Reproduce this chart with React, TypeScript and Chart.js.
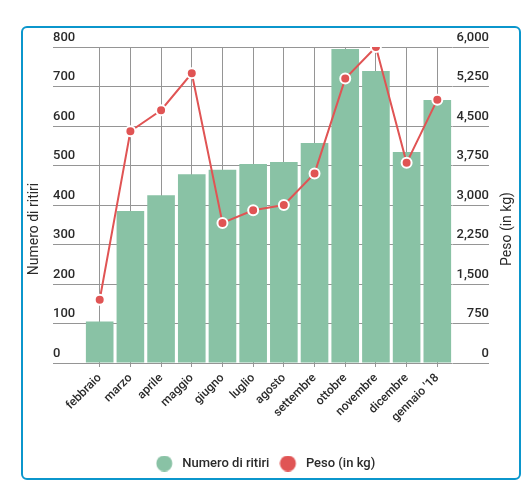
import React, { useEffect, useRef } from 'react';
import { Chart, registerables } from 'chart.js';

Chart.register(...registerables);

const categories = ['febbraio', 'marzo', 'aprile', 'maggio', 'giugno', 'luglio', 'agosto', 'settembre', 'ottobre', 'novembre', 'dicembre', "gennaio '18"];
const ritiri = [105, 385, 425, 478, 489, 504, 509, 557, 795, 739, 534, 666];
const peso = [1200, 4400, 4800, 5500, 2660, 2900, 3000, 3600, 5400, 6000, 3800, 5000];
const leftTicks = [0, 100, 200, 300, 400, 500, 600, 700, 800];
const rightTicks = [0, 750, 1500, 2250, 3000, 3750, 4500, 5250, 6000];
const seriesNames = ['Numero di ritiri', 'Peso (in kg)'];
const leftTitle = 'Numero di ritiri';
const rightTitle = 'Peso (in kg)';

const GREEN = '#89c2a5';
const RED = '#e05454';
const GRID = '#959595';
const TEXT = '#2a2a2a';
const WEIGHT = '500';

function makeDot(color: string) {
  const c = document.createElement('canvas');
  c.width = 20;
  c.height = 16;
  const ctx = c.getContext('2d')!;
  ctx.fillStyle = color;
  ctx.beginPath();
  ctx.arc(8.5, 8, 8, 0, Math.PI * 2);
  ctx.fill();
  return c;
}

const titlesPlugin = {
  id: 'sideTitles',
  afterLayout(chart: any) {
    const lg = chart.legend;
    if (lg) {
      lg.left -= 5.5;
      lg.right -= 5.5;
    }
  },
  afterDraw(chart: any) {
    const { ctx, chartArea, scales } = chart;
    const cy = (chartArea.top + chartArea.bottom) / 2 + 24;
    ctx.save();
    ctx.font = '14px Roboto';
    ctx.fillStyle = TEXT;
    ctx.textAlign = 'center';
    ctx.textBaseline = 'middle';
    ctx.save();
    ctx.translate(scales.y.left - 18.3, cy);
    ctx.rotate(-Math.PI / 2);
    ctx.fillText(leftTitle, 0, 0);
    ctx.restore();
    ctx.save();
    ctx.translate(scales.y1.right + 18.5, cy);
    ctx.rotate(-Math.PI / 2);
    ctx.fillText(rightTitle, 0, 0);
    ctx.restore();
    ctx.restore();
  },
};

export default function App() {
  const ref = useRef<HTMLCanvasElement>(null);
  useEffect(() => {
    if (!ref.current) return;
    Chart.defaults.font.family = 'Roboto';
    const dots = [makeDot(GREEN), makeDot(RED)];
    const chart = new Chart(ref.current, {
      type: 'bar',
      data: {
        labels: categories,
        datasets: [
          {
            type: 'bar',
            label: seriesNames[0],
            data: ritiri,
            backgroundColor: GREEN,
            barPercentage: 0.9,
            categoryPercentage: 1,
            yAxisID: 'y',
            order: 1,
          } as any,
          {
            type: 'line',
            label: seriesNames[1],
            data: peso,
            borderColor: RED,
            backgroundColor: RED,
            borderWidth: 2,
            pointRadius: 5,
            pointBorderWidth: 2,
            pointBorderColor: '#ffffff',
            pointBackgroundColor: RED,
            tension: 0,
            yAxisID: 'y1',
            order: 0,
          } as any,
        ],
      },
      options: {
        animation: false,
        responsive: false,
        layout: { padding: { left: 30, right: 30, top: 19, bottom: 0 } },
        scales: {
          x: {
            offset: true,
            grid: { offset: false, color: GRID, tickLength: 4 },
            border: { display: false },
            ticks: {
              minRotation: 45,
              maxRotation: 45,
              autoSkip: false,
              padding: 4,
              color: TEXT,
              font: { size: 12, weight: WEIGHT },
            },
            afterFit: (s: any) => {
              s.height = 84;
            },
          },
          y: {
            position: 'left',
            min: leftTicks[0],
            max: leftTicks[leftTicks.length - 1],
            ticks: {
              stepSize: leftTicks[1] - leftTicks[0],
              crossAlign: 'far',
              labelOffset: -9.5,
              padding: 0,
              color: TEXT,
              font: { size: 13, weight: WEIGHT },
            },
            grid: { color: GRID, tickLength: 31.35 },
            border: { display: false },
            afterFit: (s: any) => {
              s.width = 31.35;
            },
          },
          y1: {
            position: 'right',
            min: rightTicks[0],
            max: rightTicks[rightTicks.length - 1],
            ticks: {
              stepSize: rightTicks[1] - rightTicks[0],
              crossAlign: 'far',
              labelOffset: -9.5,
              padding: 0,
              color: TEXT,
              font: { size: 13, weight: WEIGHT },
              callback: (v: any) => Number(v).toLocaleString('en-US'),
            },
            grid: { color: GRID, tickLength: 36.35, drawOnChartArea: false },
            border: { display: false },
            afterFit: (s: any) => {
              s.width = 36.35;
            },
          },
        } as any,
        plugins: {
          legend: {
            position: 'bottom',
            labels: {
              usePointStyle: true,
              pointStyleWidth: 20,
              padding: 10,
              color: TEXT,
              font: { size: 13, weight: WEIGHT },
              sort: (a: any, b: any) => a.datasetIndex - b.datasetIndex,
              generateLabels: (c: any) => {
                const items = (Chart.defaults.plugins.legend.labels as any).generateLabels(c);
                return items.map((it: any) => ({ ...it, pointStyle: dots[it.datasetIndex], lineWidth: 0 }));
              },
            },
          } as any,
          tooltip: { enabled: false },
        },
      },
      plugins: [titlesPlugin],
    });
    return () => chart.destroy();
  }, []);

  return (
    <div
      style={{
        position: 'absolute',
        left: 21,
        top: 26,
        width: 500,
        height: 454,
        boxSizing: 'border-box',
        border: '2px solid #0b96cc',
        borderRadius: 6,
        background: '#fff',
      }}
    >
      <canvas ref={ref} width={496} height={452} style={{ display: 'block', width: 496, height: 452 }} />
    </div>
  );
}
